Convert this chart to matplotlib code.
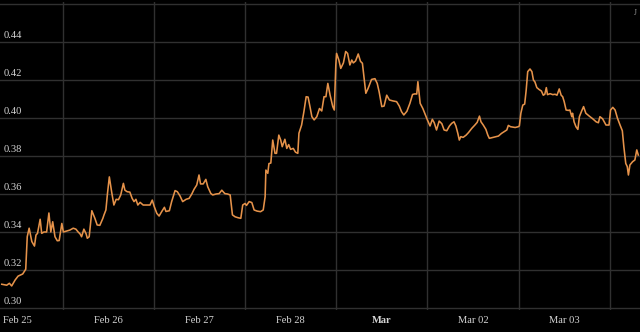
import matplotlib
matplotlib.use("Agg")
import matplotlib.pyplot as plt

# hours since Feb 25 00:00
hours = [-4.0, -2.7, -2.0, -1.4, -0.5, 0.3, 1.5, 2.3, 2.7, 3.2, 3.9, 4.6, 5.0, 5.4, 6.1, 6.5, 7.1, 7.8, 8.4, 8.9,
         9.4, 10.0, 10.6, 11.1, 11.8, 12.2, 13.1, 13.9, 14.8, 15.5, 16.1, 16.6, 17.0, 17.6, 18.2, 18.5, 19.0, 19.7,
         20.5, 21.1, 21.8, 22.6, 22.9, 23.4, 23.8, 24.3, 24.9, 25.5, 26.1, 26.7, 27.3, 28.0, 28.4, 29.0, 29.7, 30.3,
         30.8, 31.3, 31.8, 32.4, 33.2, 34.1, 35.0, 35.6, 36.1, 36.8, 37.4, 38.1, 38.8, 39.2, 40.1, 40.7, 41.6, 42.2,
         42.9, 43.6, 44.5, 45.3, 46.0, 46.6, 47.3, 47.9, 48.3, 49.0, 49.7, 50.2, 51.0, 51.5, 52.4, 53.2, 53.9, 54.7,
         55.4, 56.1, 56.7, 57.4, 58.2, 58.9, 59.4, 60.0, 60.4, 61.1, 61.8, 62.4, 63.2, 64.1, 64.8, 65.3, 65.5, 66.0,
         66.3, 66.8, 67.3, 67.9, 68.3, 68.9, 69.4, 69.8, 70.5, 71.0, 71.5, 72.0, 72.7, 73.3, 73.9, 74.2, 74.9, 75.5,
         76.1, 76.6, 77.1, 77.6, 78.2, 78.9, 79.6, 80.2, 80.8, 81.3, 81.8, 82.4, 83.1, 83.5, 83.9, 84.1, 84.7, 85.2,
         85.9, 86.5, 87.0, 87.6, 88.1, 88.5, 89.1, 89.8, 90.4, 90.9, 91.4, 91.8, 92.4, 93.3, 94.2, 94.8, 95.3, 96.0,
         96.6, 97.3, 98.0, 98.9, 99.9, 100.6, 101.2, 101.8, 102.6, 103.4, 104.1, 104.7, 105.2, 105.5, 106.1, 106.8,
         107.4, 108.0, 108.7, 109.3, 109.8, 110.4, 111.1, 111.8, 112.4, 113.1, 113.8, 114.4, 115.0, 115.5, 116.0,
         116.4, 116.8, 117.4, 118.2, 118.8, 119.7, 120.5, 121.1, 121.7, 122.1, 122.7, 123.4, 123.9, 124.3, 125.3,
         126.7, 127.5, 128.2, 128.9, 129.3, 129.9, 131.1, 131.9, 132.2, 132.6, 133.1, 133.6, 134.0, 134.4, 135.0,
         135.5, 135.9, 136.3, 136.8, 137.4, 138.0, 138.5, 138.9, 139.3, 139.6, 140.3, 141.0, 141.6, 142.1, 142.7,
         143.2, 143.6, 144.0, 144.5, 145.1, 145.5, 146.0, 146.2, 146.6, 147.1, 147.6, 148.0, 148.6, 149.1, 149.7,
         150.6, 151.5, 152.4, 153.0, 153.4, 154.1, 155.0, 155.8, 156.2, 156.8, 157.4, 158.0, 158.7, 159.3, 159.7,
         160.2, 160.6, 160.9, 161.3, 162.0, 162.6, 163.1, 163.5]

values = [0.3125, 0.312, 0.313, 0.3116, 0.3147, 0.3168, 0.3179, 0.3204, 0.3375, 0.342, 0.335, 0.3326, 0.3384, 0.3393,
          0.3467, 0.3393, 0.340, 0.340, 0.350, 0.340, 0.3454, 0.3375, 0.3354, 0.3355, 0.3445, 0.340, 0.3405, 0.341,
          0.342, 0.3415, 0.340, 0.339, 0.3375, 0.3415, 0.339, 0.3367, 0.3375, 0.3512, 0.3472, 0.3437, 0.3435, 0.3472,
          0.349, 0.3516, 0.360, 0.369, 0.3612, 0.3542, 0.3572, 0.357, 0.3595, 0.3656, 0.362, 0.3612, 0.361, 0.3577,
          0.356, 0.3572, 0.3542, 0.3556, 0.3542, 0.3542, 0.3542, 0.3568, 0.3535, 0.3498, 0.3484, 0.3508, 0.353,
          0.3508, 0.3512, 0.356, 0.3618, 0.3612, 0.359, 0.356, 0.3572, 0.3577, 0.360, 0.3625, 0.3647, 0.370, 0.3653,
          0.3653, 0.3677, 0.3638, 0.3603, 0.3595, 0.360, 0.3602, 0.362, 0.3602, 0.360, 0.3595, 0.349, 0.348, 0.3475,
          0.3472, 0.3542, 0.355, 0.354, 0.356, 0.3555, 0.3516, 0.351, 0.3507, 0.3516, 0.3586, 0.3726, 0.3709, 0.376,
          0.3763, 0.3884, 0.3814, 0.3814, 0.391, 0.3884, 0.3849, 0.3888, 0.384, 0.386, 0.3835, 0.384, 0.382, 0.3814,
          0.392, 0.3963, 0.4033, 0.4112, 0.411, 0.406, 0.4007, 0.399, 0.4007, 0.405, 0.4037, 0.4112, 0.4112, 0.4182,
          0.412, 0.406, 0.4042, 0.4279, 0.434, 0.4305, 0.4261, 0.429, 0.435, 0.434, 0.4279, 0.4305, 0.429, 0.430,
          0.4337, 0.4298, 0.4288, 0.420, 0.413, 0.4156, 0.4203, 0.4207, 0.4182, 0.4138, 0.406, 0.4063, 0.412, 0.4095,
          0.409, 0.4086, 0.4063, 0.4033, 0.4016, 0.4035, 0.4077, 0.4124, 0.4127, 0.4126, 0.4191, 0.4077, 0.405,
          0.402, 0.399, 0.3958, 0.3993, 0.3975, 0.3937, 0.3984, 0.397, 0.3937, 0.3933, 0.3958, 0.3972, 0.398, 0.3958,
          0.392, 0.3884, 0.3902, 0.3898, 0.391, 0.3923, 0.3946, 0.3963, 0.3977, 0.401, 0.398, 0.3963, 0.394, 0.391,
          0.3893, 0.3898, 0.3905, 0.3919, 0.3928, 0.3937, 0.3961, 0.3954, 0.395, 0.3954, 0.3958, 0.4025, 0.4068,
          0.4073, 0.4147, 0.4244, 0.4258, 0.4244, 0.420, 0.419, 0.416, 0.415, 0.4142, 0.412, 0.4125, 0.416, 0.4123,
          0.4128, 0.4123, 0.4125, 0.412, 0.4153, 0.412, 0.4112, 0.4086, 0.4042, 0.404, 0.4042, 0.4007, 0.4025,
          0.398, 0.3954, 0.394, 0.4007, 0.4037, 0.406, 0.4025, 0.401, 0.3996, 0.398, 0.3975, 0.4007, 0.3996, 0.3963,
          0.3963, 0.4042, 0.4056, 0.4042, 0.400, 0.3963, 0.3933, 0.3849, 0.3761, 0.3744, 0.370, 0.3753, 0.377,
          0.3779, 0.3832, 0.3805]

day_labels = ["Feb 25", "Feb 26", "Feb 27", "Feb 28", "Mar", "Mar 02", "Mar 03"]
day_hours = [0, 24, 48, 72, 96, 120, 144]
grid_hours = [12, 36, 60, 84, 108, 132, 156]
y_ticks = [0.30, 0.32, 0.34, 0.36, 0.38, 0.40, 0.42, 0.44, 0.46]
y_labels = ["0.30", "0.32", "0.34", "0.36", "0.38", "0.40", "0.42", "0.44"]

W, H = 640, 332
fig = plt.figure(figsize=(W / 100, H / 100), dpi=100, facecolor="black")
ax = fig.add_axes([0, (H - 310) / H, 1, 308 / H])
ax.set_facecolor("black")
for s in ax.spines.values():
    s.set_visible(False)

ax.plot(hours, values, color="#e5924a", lw=1.15, solid_joinstyle="round", zorder=3)

ax.set_xlim(-4.47, 163.95)
ax.set_ylim(0.30 - 2 / 1900, 0.46 + 2 / 1900)

grid_c = "#303030"
for h in grid_hours:
    ax.axvline(h, color=grid_c, lw=1.0, zorder=1)
for y in y_ticks:
    ax.axhline(y, color=grid_c, lw=1.0, zorder=1)

ax.set_yticks([])
ax.set_xticks(day_hours)
ax.set_xticklabels(day_labels, family="Liberation Serif", fontsize=7.6, color="#d4d4d4")
for lbl in ax.get_xticklabels():
    if lbl.get_text() == "Mar":
        lbl.set_fontweight("bold")
ax.tick_params(axis="x", length=0, pad=4.5)

for y, t in zip(y_ticks, y_labels):
    ax.annotate(t, xy=(0, y), xycoords=ax.get_yaxis_transform(), xytext=(2.8, 1.3),
                textcoords="offset points", ha="left", va="bottom",
                family="Liberation Serif", fontsize=7.6, color="#d4d4d4")

fig.text(634 / W, 1 - 13 / H, "J", ha="left", va="center", family="Liberation Serif",
         fontsize=5.5, color="#9a9a9a")

fig.savefig("out.png", dpi=100, facecolor="black")
